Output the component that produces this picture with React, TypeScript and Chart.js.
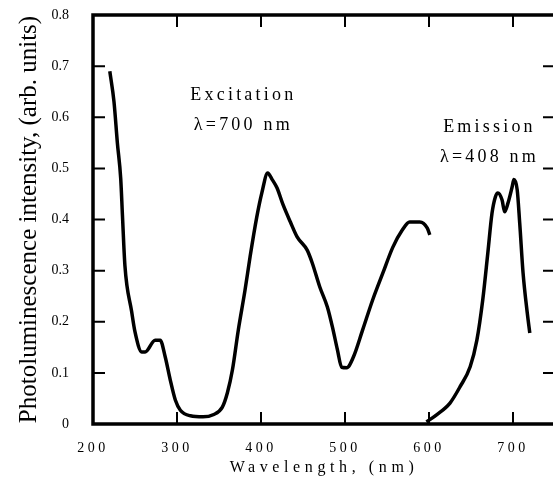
import React, { useEffect, useRef } from "react";
import { Chart, registerables } from "chart.js";

Chart.register(...registerables);

const excitationWavelength = [
  220, 225, 229, 233, 235, 238, 246, 250, 258, 262, 274, 280, 286, 292, 298, 304, 316, 331, 343, 354,
  360, 366, 373, 381, 387, 395, 401, 408, 413, 419, 426, 435, 443, 455, 461, 470, 479, 485, 491, 496,
  502, 510, 521, 533, 545, 557, 568, 577, 589, 598, 601,
];
const excitationIntensity = [
  0.69, 0.63, 0.55, 0.48, 0.41, 0.31, 0.22, 0.18, 0.141, 0.141, 0.164, 0.164, 0.131, 0.086, 0.047, 0.027, 0.016, 0.014, 0.018, 0.033,
  0.061, 0.106, 0.184, 0.262, 0.327, 0.405, 0.452, 0.491, 0.479, 0.462, 0.43, 0.395, 0.366, 0.34, 0.315, 0.268, 0.229, 0.19, 0.145, 0.111,
  0.11, 0.131, 0.184, 0.243, 0.295, 0.346, 0.379, 0.395, 0.395, 0.383, 0.37,
];

const emissionWavelength = [597, 609, 625, 637, 649, 657, 664, 670, 675, 679, 682, 687, 690, 694, 699, 701, 705, 708, 712, 717, 720];
const emissionIntensity = [0.004, 0.018, 0.041, 0.073, 0.112, 0.164, 0.243, 0.334, 0.412, 0.444, 0.452, 0.438, 0.415, 0.432, 0.464, 0.478, 0.458, 0.393, 0.295, 0.217, 0.178];

const xTicks = [200, 300, 400, 500, 600, 700];
const yTicks = [0, 0.1, 0.2, 0.3, 0.4, 0.5, 0.6, 0.7, 0.8];
const yTickLabels = ["0", "0.1", "0.2", "0.3", "0.4", "0.5", "0.6", "0.7", "0.8"];

const xTitle = "Wavelength, (nm)";
const yTitle = "Photoluminescence intensity, (arb. units)";

const annotationTexts = [
  ["Excitation", "\u03bb=700 nm"],
  ["Emission", "\u03bb=408 nm"],
];
const annotationAnchors = [
  { x: 379, y: [0.643, 0.585] },
  { x: 672, y: [0.581, 0.522] },
];

const SERIF = "'Liberation Serif', 'Times New Roman', serif";

const toPoints = (xs: number[], ys: number[]) => xs.map((x, i) => ({ x, y: ys[i] }));

const spacingPlugin = {
  id: "xSpacing",
  beforeDraw(chart: any) {
    const s = chart.scales.x;
    if (!s || s.__wrapped) return;
    s.__wrapped = true;
    const ctx = chart.ctx;
    const origLabels = s.drawLabels.bind(s);
    const origTitle = s.drawTitle.bind(s);
    s.drawLabels = (area: any) => {
      ctx.save();
      (ctx as any).letterSpacing = "3.5px";
      origLabels(area);
      ctx.restore();
    };
    s.drawTitle = () => {
      ctx.save();
      (ctx as any).letterSpacing = "4.6px";
      origTitle();
      ctx.restore();
    };
  },
};

const framePlugin = {
  id: "frame",
  afterDatasetsDraw(chart: any) {
    const { ctx, chartArea: a, scales } = chart;
    const tl = 12;
    ctx.save();
    ctx.strokeStyle = "#000";
    ctx.lineWidth = 2;
    ctx.beginPath();
    scales.x.ticks.forEach((t: any) => {
      const px = scales.x.getPixelForValue(t.value);
      if (px <= a.left + 1 || px >= a.right - 1) return;
      ctx.moveTo(px, a.bottom);
      ctx.lineTo(px, a.bottom - tl);
      ctx.moveTo(px, a.top);
      ctx.lineTo(px, a.top + tl);
    });
    scales.y.ticks.forEach((t: any) => {
      const py = scales.y.getPixelForValue(t.value);
      if (py <= a.top + 1 || py >= a.bottom - 1) return;
      ctx.moveTo(a.left, py);
      ctx.lineTo(a.left + tl, py);
      ctx.moveTo(a.right, py);
      ctx.lineTo(a.right - tl, py);
    });
    ctx.stroke();
    ctx.lineWidth = 3.5;
    ctx.strokeRect(a.left, a.top, a.right - a.left, a.bottom - a.top);
    ctx.restore();
  },
  afterDraw(chart: any) {
    const { ctx, scales } = chart;
    ctx.save();
    ctx.fillStyle = "#000";
    ctx.font = `18px ${SERIF}`;
    (ctx as any).letterSpacing = "3.2px";
    ctx.textAlign = "center";
    ctx.textBaseline = "middle";
    annotationTexts.forEach((lines, i) => {
      const anc = annotationAnchors[i];
      const px = scales.x.getPixelForValue(anc.x);
      lines.forEach((line, j) => {
        ctx.fillText(line, px, scales.y.getPixelForValue(anc.y[j]));
      });
    });
    ctx.restore();
  },
};

export default function App() {
  const ref = useRef<HTMLCanvasElement>(null);
  useEffect(() => {
    const chart = new Chart(ref.current as HTMLCanvasElement, {
      type: "scatter",
      data: {
        datasets: [
          {
            label: "Excitation",
            data: toPoints(excitationWavelength, excitationIntensity),
            showLine: true,
            borderColor: "#000",
            borderWidth: 3.5,
            pointRadius: 0,
            cubicInterpolationMode: "monotone",
          },
          {
            label: "Emission",
            data: toPoints(emissionWavelength, emissionIntensity),
            showLine: true,
            borderColor: "#000",
            borderWidth: 3.5,
            pointRadius: 0,
            cubicInterpolationMode: "monotone",
          },
        ],
      },
      options: {
        animation: false,
        responsive: false,
        layout: { padding: { top: 15, right: 5, left: 0, bottom: 0 } },
        plugins: { legend: { display: false }, tooltip: { enabled: false } },
        scales: {
          x: {
            type: "linear",
            min: 200,
            max: 750,
            afterBuildTicks: (s: any) => {
              s.ticks = xTicks.map((v) => ({ value: v }));
            },
            afterFit: (s: any) => {
              s.height = 64;
              s.paddingLeft = 0;
              s.paddingRight = 0;
            },
            grid: { display: false, drawTicks: false },
            border: { display: false },
            ticks: {
              color: "#000",
              font: { family: SERIF, size: 14 },
              padding: 16,
              maxRotation: 0,
              autoSkip: false,
            },
            title: {
              display: true,
              text: xTitle,
              color: "#000",
              font: { family: SERIF, size: 16, lineHeight: 1.2 },
              padding: { top: 0, bottom: 11 },
            },
          },
          y: {
            type: "linear",
            min: 0,
            max: 0.8,
            afterBuildTicks: (s: any) => {
              s.ticks = yTicks.map((v) => ({ value: v }));
            },
            afterFit: (s: any) => {
              s.width = 93;
              s.paddingTop = 0;
              s.paddingBottom = 0;
            },
            grid: { display: false, drawTicks: false },
            border: { display: false },
            ticks: {
              color: "#000",
              font: { family: SERIF, size: 14 },
              padding: 24,
              autoSkip: false,
              callback: (_v: any, i: number) => yTickLabels[i],
            },
            title: {
              display: true,
              text: yTitle,
              color: "#000",
              font: { family: SERIF, size: 25, lineHeight: 1 },
              padding: { top: 17, bottom: 0 },
            },
          },
        },
      },
      plugins: [spacingPlugin, framePlugin],
    } as any);
    return () => chart.destroy();
  }, []);
  return (
    <div style={{ position: "fixed", left: 0, top: 0, width: 560, height: 488, background: "#fff" }}>
      <canvas ref={ref} width={560} height={488} style={{ display: "block" }} />
    </div>
  );
}
